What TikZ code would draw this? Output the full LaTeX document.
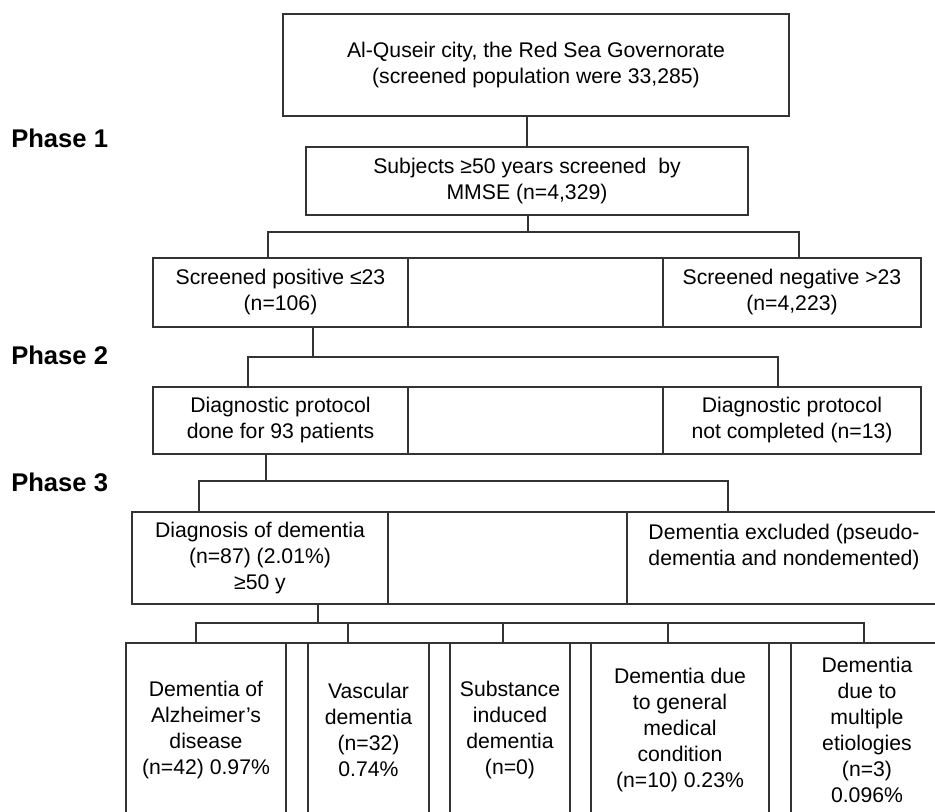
\documentclass[tikz,border=0pt]{standalone}
\usepackage{fontspec}
\setmainfont{Liberation Sans}
\begin{document}
\begin{tikzpicture}[x=0.75pt,y=-0.75pt,
  cell/.style 2 args={draw=black!80, line width=0.9pt, inner sep=0pt, outer sep=0pt,
    minimum width=#1*0.75pt, minimum height=#2*0.75pt, align=center,
    font=\fontsize{15.9pt}{19.5pt}\selectfont},
  phase/.style={anchor=base west, inner sep=0pt, font=\fontsize{19.2pt}{22pt}\selectfont\bfseries},
  link/.style={draw=black!80, line width=0.9pt}]
\path[use as bounding box, clip] (0,0) rectangle (935,812);
\fill[white] (0,0) rectangle (935,812);

% phase labels
\node[phase] (ph1) at (11,148) {Phase 1};
\node[phase] (ph2) at (11,365) {Phase 2};
\node[phase] (ph3) at (11,492) {Phase 3};

% level 1 and 2
\node[cell={506}{102}] (top) at (536,65) {Al-Quseir city, the Red Sea Governorate\\(screened population were 33,285)};
\node[cell={442}{68}] (sub) at (527,181) {Subjects ≥50 years screened~ by\\MMSE (n=4,329)};

% row 3
\node[cell={255}{69}] (pos) at (280.5,292.5) {Screened positive ≤23\\(n=106)};
\node[cell={255}{69}] (mid3) at (535.5,292.5) {};
\node[cell={258}{69}] (neg) at (792,292.5) {Screened negative >23\\(n=4,223)};

% row 4
\node[cell={255}{67}] (done) at (280.5,420.5) {Diagnostic protocol\\done for 93 patients};
\node[cell={255}{67}] (mid4) at (535.5,420.5) {};
\node[cell={258}{67}] (notc) at (792,420.5) {Diagnostic protocol\\not completed (n=13)};

% row 5
\node[cell={256}{92}] (dem) at (260,558) {Diagnosis of dementia\\(n=87) (2.01\%)\\≥50 y};
\node[cell={239}{92}] (mid5) at (507.5,558) {};
\node[cell={314}{92}] (excl) at (784,558) {Dementia excluded (pseudo-\\dementia and nondemented)\\~};

% row 6
\node[cell={160}{174}] (alz) at (206,730) {Dementia of\\Alzheimer’s\\disease\\(n=42) 0.97\%};
\node[cell={22}{174}] (g1) at (297,730) {};
\node[cell={121}{174}] (vas) at (368.5,730) {Vascular\\dementia\\(n=32)\\0.74\%};
\node[cell={21}{174}] (g2) at (439.5,730) {};
\node[cell={120}{174}] (sub6) at (510,730) {Substance\\induced\\dementia\\(n=0)};
\node[cell={21}{174}] (g3) at (580.5,730) {};
\node[cell={178}{174}] (gen) at (680,730) {Dementia due\\to general\\medical\\condition\\(n=10) 0.23\%};
\node[cell={22}{174}] (g4) at (780,730) {};
\node[cell={152}{174}] (mult) at (867,730) {Dementia\\due to\\multiple\\etiologies\\(n=3)\\0.096\%};

% junction coordinates
\coordinate (j1) at (528,232);
\coordinate (j1L) at (268,232);
\coordinate (j1R) at (799,232);
\coordinate (j2) at (313,357);
\coordinate (j2L) at (248,357);
\coordinate (j2R) at (778,357);
\coordinate (j3) at (266,481);
\coordinate (j3L) at (199,481);
\coordinate (j3R) at (728,481);
\coordinate (j4) at (318,623);
\coordinate (j4a) at (196,623);
\coordinate (j4b) at (348,623);
\coordinate (j4c) at (503,623);
\coordinate (j4d) at (668,623);
\coordinate (j4e) at (864,623);

% connectors
\draw[link] (sub.north |- top.south) -- (sub.north);
\draw[link] (j1 |- sub.south) -- (j1);
\draw[link] (j1L |- pos.north) -- (j1L) -- (j1R) -- (j1R |- neg.north);

\draw[link] (j2 |- pos.south) -- (j2);
\draw[link] (j2L |- done.north) -- (j2L) -- (j2R) -- (j2R |- notc.north);

\draw[link] (j3 |- done.south) -- (j3);
\draw[link] (j3L |- dem.north) -- (j3L) -- (j3R) -- (j3R |- excl.north);

\draw[link] (j4 |- dem.south) -- (j4);
\draw[link] (j4a |- alz.north) -- (j4a) -- (j4e) -- (j4e |- mult.north);
\draw[link] (j4b) -- (j4b |- vas.north);
\draw[link] (j4c) -- (j4c |- sub6.north);
\draw[link] (j4d) -- (j4d |- gen.north);
\end{tikzpicture}
\end{document}
